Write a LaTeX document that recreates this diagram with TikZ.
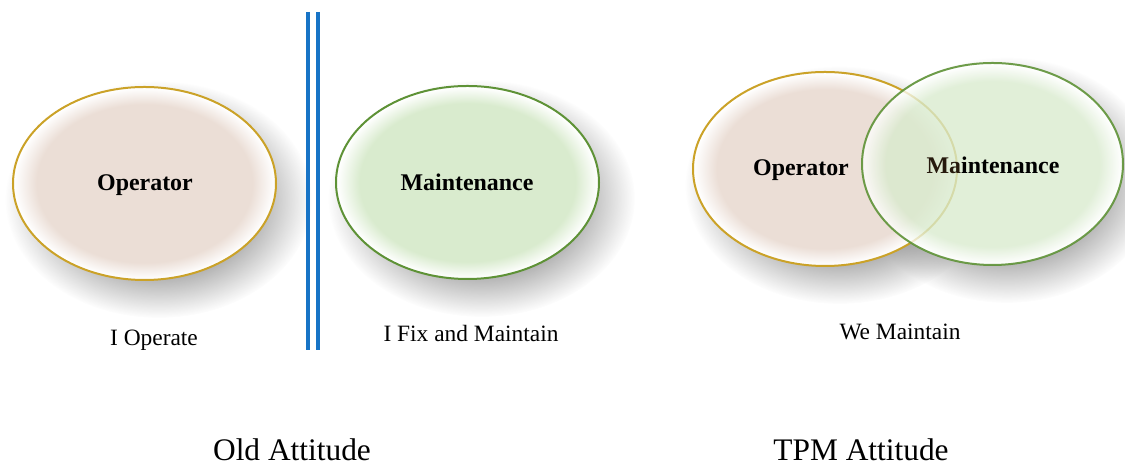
\documentclass[tikz,border=0pt]{standalone}
\usepackage{fontspec}
\setmainfont{Liberation Serif}
\usetikzlibrary{fadings,shapes.geometric}

\definecolor{opfill}{HTML}{EBDED6}
\definecolor{opline}{HTML}{CBA228}
\definecolor{mtfill}{HTML}{D9EBCE}
\definecolor{mtline}{HTML}{5E9236}
\definecolor{barblue}{HTML}{1874C6}

% soft inner glow: coloured core, white rim (the path edge sits at 25bp)
\pgfdeclareradialshading{opglow}{\pgfpoint{0bp}{0bp}}{%
  color(0bp)=(opfill); color(20.5bp)=(opfill);
  color(24.8bp)=(white); color(50bp)=(white)}
\pgfdeclareradialshading{mtglow}{\pgfpoint{0bp}{0bp}}{%
  color(0bp)=(mtfill); color(20.5bp)=(mtfill);
  color(24.8bp)=(white); color(50bp)=(white)}

% wide soft edge for drop shadows
\pgfdeclareradialshading{shadowramp}{\pgfpoint{0bp}{0bp}}{%
  color(0bp)=(pgftransparent!0); color(12bp)=(pgftransparent!0);
  color(25bp)=(pgftransparent!100); color(50bp)=(pgftransparent!100)}
\pgfdeclarefading{softedge}{\pgfuseshading{shadowramp}}

\tikzset{
  x=1bp, y=1bp,
  blob/.style={ellipse, inner sep=0pt, line width=2bp},
  opblob/.style={blob, draw=opline, shading=opglow},
  mtblob/.style={blob, draw=mtline, shading=mtglow},
  label/.style={font=\fontsize{24pt}{28pt}\selectfont\bfseries},
  caption/.style={font=\fontsize{23.5pt}{28pt}\selectfont},
  title/.style={font=\fontsize{31.5pt}{36pt}\selectfont, anchor=base, inner sep=0pt},
  bar/.style={draw=barblue, line width=4bp},
}

% blurred drop shadow under an ellipse
\newcommand\softshadow[3]{% centre, x radius, y radius
  \fill[black!45, path fading=softedge]
    ([shift={(14,-16)}]#1) ellipse [x radius=#2+22, y radius=#3+22];}

\begin{document}
\begin{tikzpicture}
\useasboundingbox (0,0) rectangle (1125,466);

% shadows
\softshadow{144.5,282.5}{131.5}{96.5}
\softshadow{467.5,283.5}{131.5}{96.5}
\softshadow{825,297}{132}{97}
\softshadow{992.5,302}{130.5}{101}

% old attitude
\node[opblob, minimum width=263bp, minimum height=193bp] (opA) at (144.5,282.5) {};
\node[mtblob, minimum width=263bp, minimum height=193bp] (mtA) at (467.5,283.5) {};
\node[label] (opAl) at (145,281) {Operator};
\node[label] (mtAl) at (467,284) {Maintenance};
\node[caption] (opAc) at (154,126) {I Operate};
\node[caption] (mtAc) at (471,133) {I Fix and Maintain};

% divider
\coordinate (d1t) at (308,454);
\coordinate (d1b) at (308,116);
\coordinate (d2t) at (318,454);
\coordinate (d2b) at (318,116);
\draw[bar] (d1t) -- (d1b);
\draw[bar] (d2t) -- (d2b);

% TPM attitude: white base keeps the shadow out of the translucent ellipse
\fill[white] (992.5,302) ellipse [x radius=130.5, y radius=101];
\node[opblob, minimum width=264bp, minimum height=194bp] (opB) at (825,297) {};
\node[label] (opBl) at (801,296) {Operator};
\node[mtblob, fill opacity=0.78, draw opacity=0.9, minimum width=261bp, minimum height=202bp] (mtB) at (992.5,302) {};
\node[label] (mtBl) at (993,301) {\textcolor{black!80!brown}{Ma}intenance};
\node[caption] (tpmc) at (900,134) {We Maintain};

% titles
\node[title] (oldt) at (292,5) {Old Attitude};
\node[title] (tpmt) at (861,5) {TPM Attitude};
\end{tikzpicture}
\end{document}
